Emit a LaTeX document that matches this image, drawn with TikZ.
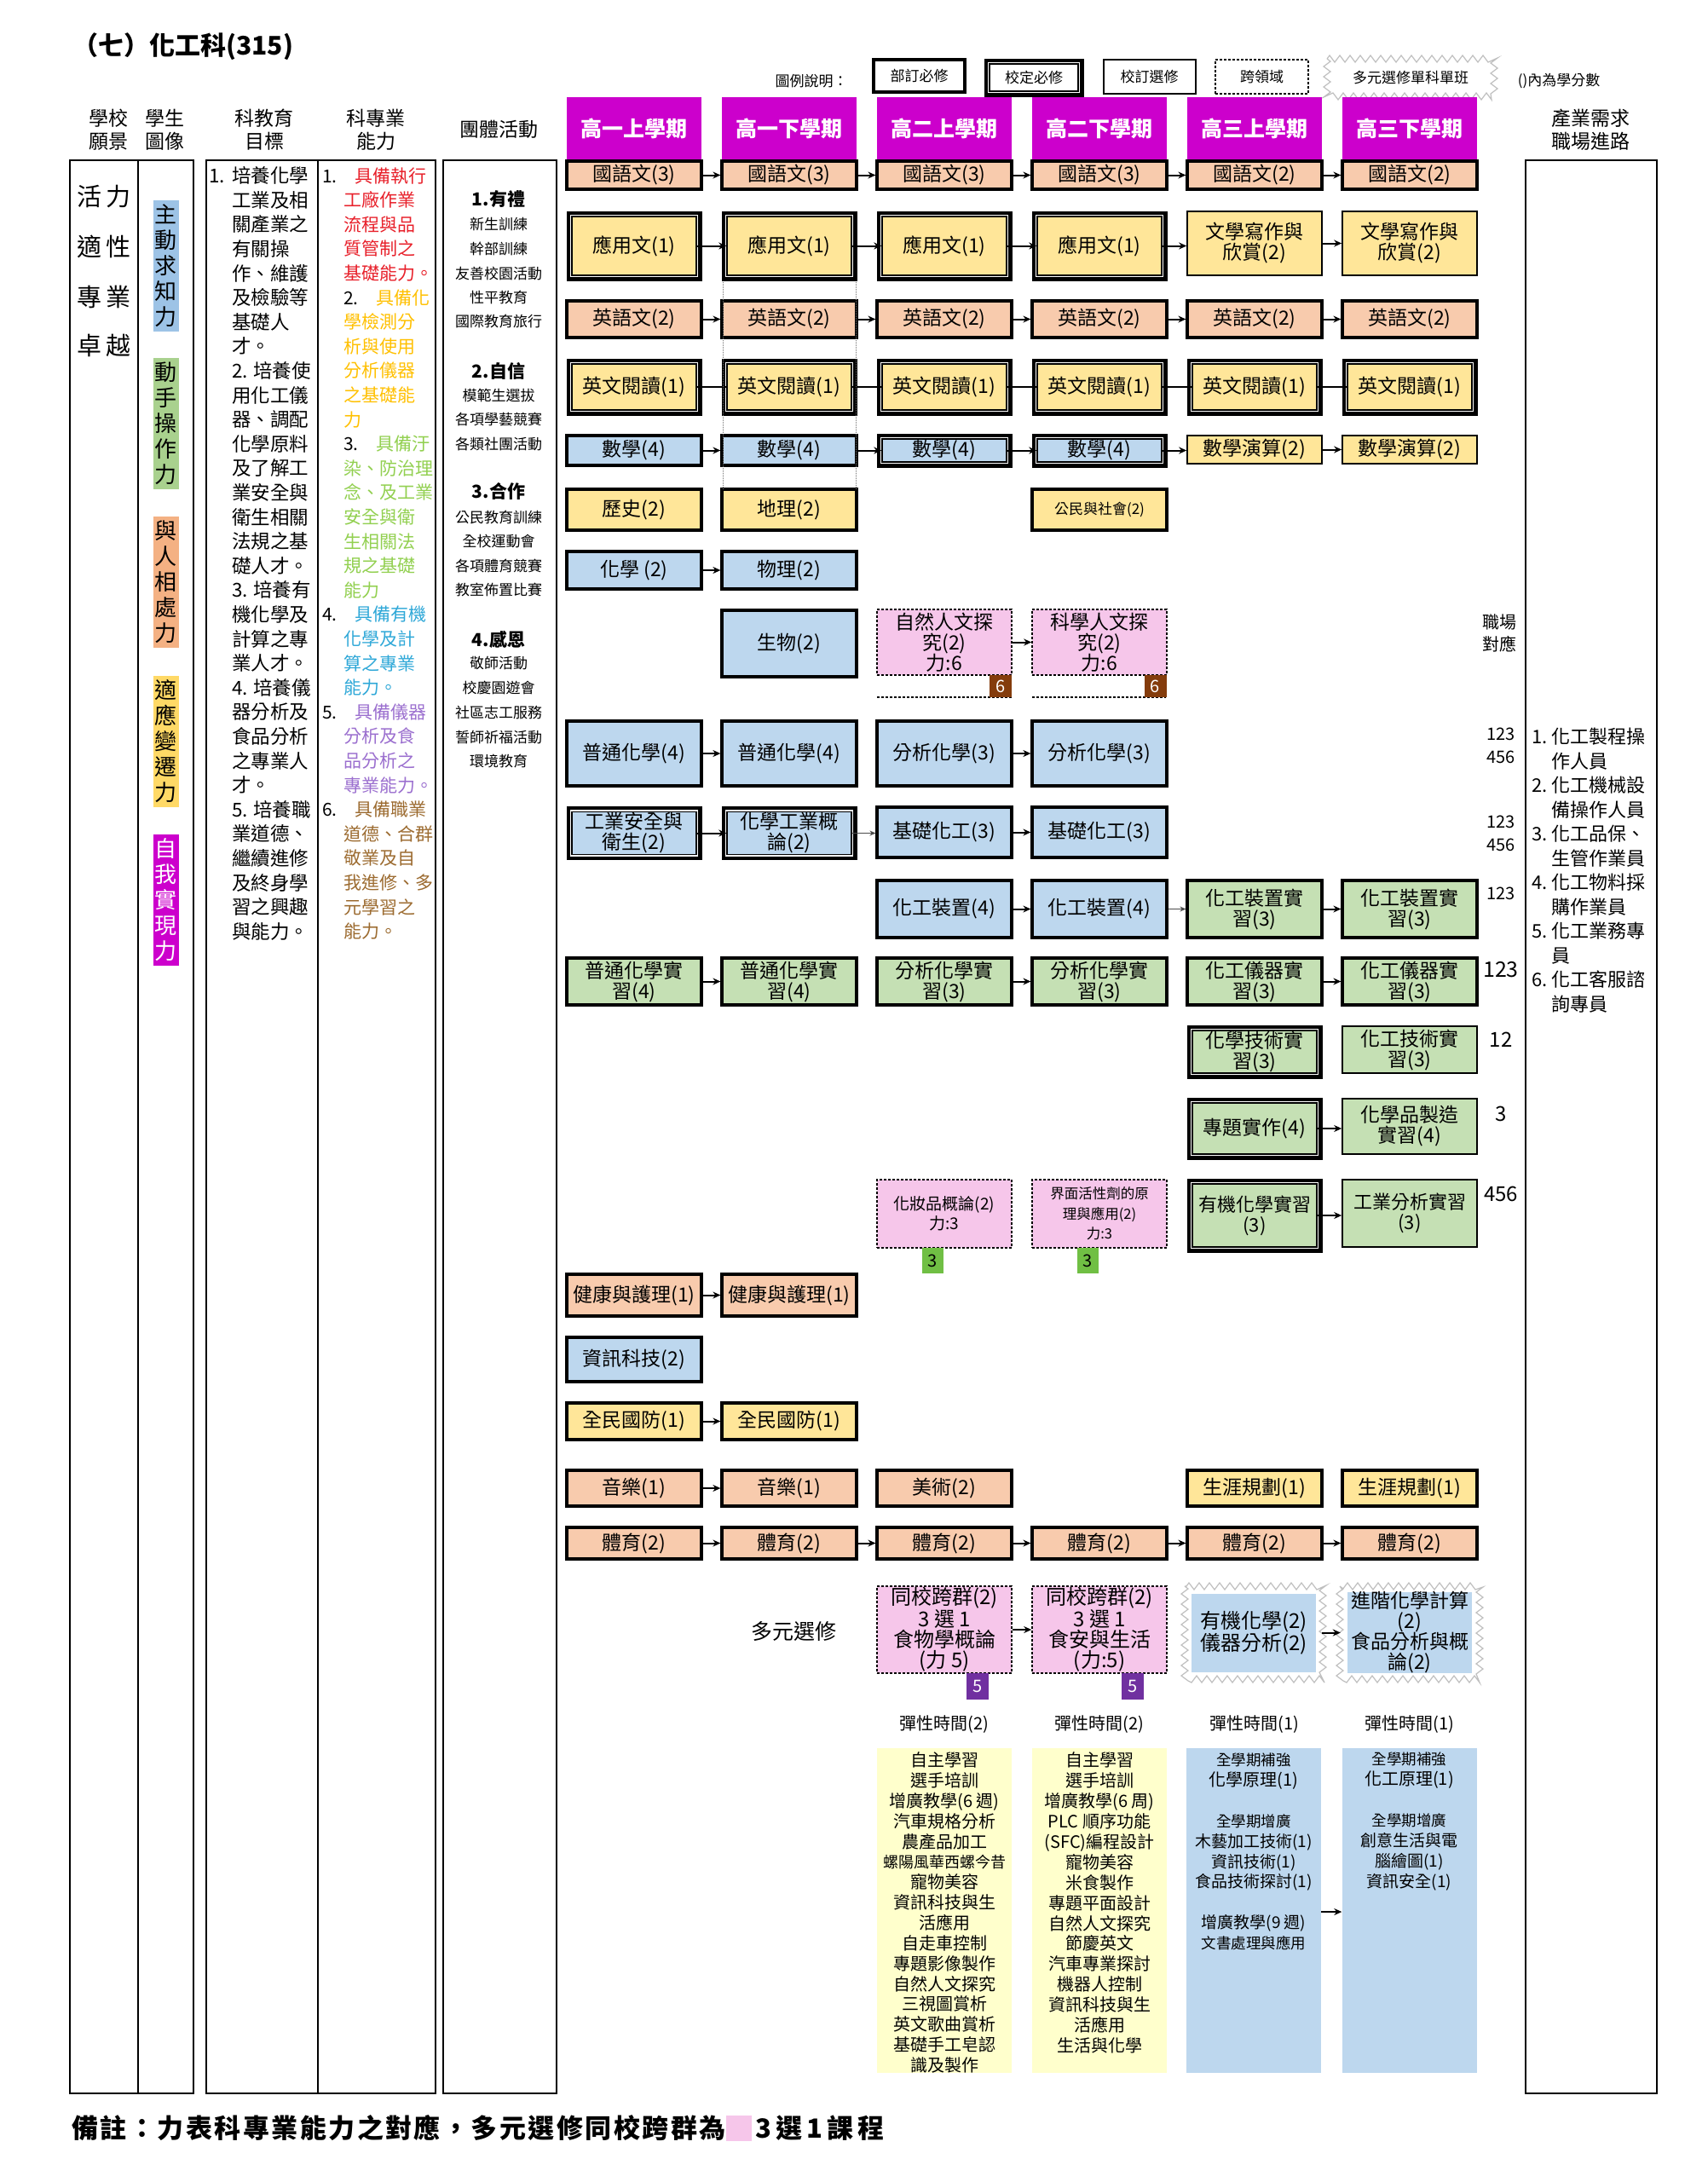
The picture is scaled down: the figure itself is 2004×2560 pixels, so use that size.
\documentclass[tikz,border=0pt]{standalone}
\usepackage{fontspec}
\setmainfont{Noto Sans CJK TC}
\usetikzlibrary{arrows.meta,decorations.pathmorphing,calc}
\definecolor{cSal}{HTML}{F8CBAD}
\definecolor{cYel}{HTML}{FFE699}
\definecolor{cBlu}{HTML}{BDD7EE}
\definecolor{cGrn}{HTML}{C5E0B4}
\definecolor{cPnk}{HTML}{F6C6EA}
\definecolor{cMag}{HTML}{CC00CC}
\definecolor{cLY}{HTML}{FFFFCC}
\definecolor{cBrn}{HTML}{843C0C}
\definecolor{cG3}{HTML}{70BF44}
\definecolor{cPur}{HTML}{7030A0}
\definecolor{pA}{HTML}{9DC3E6}
\definecolor{pB}{HTML}{A9D18E}
\definecolor{pC}{HTML}{F4B183}
\definecolor{pD}{HTML}{FFD966}
\definecolor{kA}{HTML}{E8202A}
\definecolor{kB}{HTML}{FFC000}
\definecolor{kC}{HTML}{92D050}
\definecolor{kD}{HTML}{2FA8D8}
\definecolor{kE}{HTML}{9B6FCF}
\definecolor{kF}{HTML}{9C6B30}
\newcommand\fs[2]{\fontsize{#1}{#2}\selectfont}
\def\shrink{0}
\newcommand\crs[6][]{%
  \def\shrink{0}%
  \pgfmathsetmacro\cx{744+182*(#3-1)}%
  \pgfmathsetmacro\cy{(#4+#5)/2}%
  \pgfmathsetmacro\ch{#5-#4}%
  \node[cbox,#1,minimum width={158-\shrink},minimum height={\ch-\shrink}] (#2) at (\cx,\cy) {#6};}
\begin{document}
\begin{tikzpicture}[x=1pt,y=-1pt,
  cbox/.style={draw=black,line width=3.2pt,inner sep=1pt,align=center,font=\fs{23}{24}},
  tb/.style={line width=1.6pt},
  dbl/.style={line width=1.4pt,preaction={draw=black,line width=13pt},preaction={draw=white,line width=4.5pt},/utils/exec={\def\shrink{12}}},
  dsh/.style={line width=1.5pt,densely dashed},
  sal/.style={fill=cSal},yel/.style={fill=cYel},blu/.style={fill=cBlu},grn/.style={fill=cGrn},pnk/.style={fill=cPnk},
  arrw/.style={-{Stealth[length=9pt,width=8pt]},line width=2pt},
  tarr/.style={-{Stealth[length=7pt,width=6pt]},line width=1pt,black!70},
  hdr/.style={fill=cMag,minimum width=158,minimum height=74,text=white,font=\bfseries\fs{25}{28},inner sep=0},
  zz/.style={draw=black!25,line width=1.2pt,decorate,decoration={zigzag,segment length=12pt,amplitude=4pt}},
  lg/.style={inner sep=0,font=\fs{17}{18}},
  actH/.style={inner sep=0,font=\bfseries\fs{21}{22}},
  actI/.style={inner sep=0,font=\fs{17}{18}},
  num/.style={inner sep=0,font=\fs{20}{27},align=center},
  frm/.style={line width=2pt},
  pill/.style={inner sep=2pt,minimum width=30,align=center,font=\fs{26}{30}},
  tag/.style={inner sep=0,font=\fs{20}{20}},
]
\fill[white] (0,0) rectangle (2004,2560);
\useasboundingbox (0,0) rectangle (2004,2560);

% title and legend
\node[anchor=west,font=\bfseries\fs{30}{32},inner sep=0] (title) at (85,55) {（七）化工科(315)};
\node[lg] (L0) at (952,95) {圖例說明：};
\node[lg,draw,line width=4pt,minimum width=107,minimum height=38] (L1) at (1078.5,89) {部訂必修};
\node[lg,draw=black,fill=white,dbl,minimum width=104,minimum height=32] (L2) at (1213,91) {校定必修};
\node[lg,draw,line width=2pt,minimum width=108,minimum height=40] (L3) at (1348.5,90) {校訂選修};
\node[lg,draw,dsh,minimum width=109,minimum height=40] (L4) at (1480.5,90) {跨領域};
\draw[zz] (1557,69) rectangle (1753,113);
\node[lg] (L5) at (1655,91) {多元選修單科單班};
\node[lg] (L6) at (1829,95) {()內為學分數};

% column headers
\node[font=\fs{23}{27},align=center,inner sep=0] (hA) at (127,152) {學校\\願景};
\node[font=\fs{23}{27},align=center,inner sep=0] (hB) at (193,152) {學生\\圖像};
\node[font=\fs{23}{27},align=center,inner sep=0] (hC) at (310,152) {科教育\\目標};
\node[font=\fs{23}{27},align=center,inner sep=0] (hD) at (441,152) {科專業\\能力};
\node[font=\fs{23}{27},align=center,inner sep=0] (hE) at (585,152) {團體活動};
\node[font=\fs{23}{27},align=center,inner sep=0] (hF) at (1866,152) {產業需求\\職場進路};
\node[hdr] (h1) at (744,151) {高一上學期};
\node[hdr] (h2) at (926,151) {高一下學期};
\node[hdr] (h3) at (1108,151) {高二上學期};
\node[hdr] (h4) at (1290,151) {高二下學期};
\node[hdr] (h5) at (1472,151) {高三上學期};
\node[hdr] (h6) at (1654,151) {高三下學期};

% left frames
\draw[frm] (82,188) rectangle (227,2456);
\draw[frm] (162,188) -- (162,2456);
\draw[frm] (242,188) rectangle (511,2456);
\draw[frm] (373,188) -- (373,2456);
\draw[frm] (520,188) rectangle (653,2456);
\draw[frm] (1790,188) rectangle (1944,2456);

% vision
\node[font=\fs{29}{30},inner sep=0] (v1) at (122,231) {活\hspace{5pt}力};
\node[font=\fs{29}{30},inner sep=0] (v2) at (122,289) {適\hspace{5pt}性};
\node[font=\fs{29}{30},inner sep=0] (v3) at (122,348) {專\hspace{5pt}業};
\node[font=\fs{29}{30},inner sep=0] (v4) at (122,405) {卓\hspace{5pt}越};

% student image pills
\node[pill,fill=pA,minimum height=154] (p1) at (194.5,312) {主\\動\\求\\知\\力};
\node[pill,fill=pB,minimum height=154] (p2) at (194.5,497) {動\\手\\操\\作\\力};
\node[pill,fill=pC,minimum height=154] (p3) at (194.5,683) {與\\人\\相\\處\\力};
\node[pill,fill=pD,minimum height=154] (p4) at (194.5,870) {適\\應\\變\\遷\\力};
\node[pill,fill=cMag,text=white,minimum height=154] (p5) at (194.5,1056) {自\\我\\實\\現\\力};

% objectives
\def\ii{\hspace*{27pt}}
\node[anchor=west,align=left,inner sep=0,font=\fs{22.5}{28.6}] (obj) at (245,649.5) {%
\makebox[27pt][l]{1.}培養化學\\
\ii 工業及相\\ \ii 關產業之\\ \ii 有關操\\ \ii 作、維護\\ \ii 及檢驗等\\ \ii 基礎人\\ \ii 才。\\
\ii\makebox[25pt][l]{2.}培養使\\
\ii 用化工儀\\ \ii 器、調配\\ \ii 化學原料\\ \ii 及了解工\\ \ii 業安全與\\ \ii 衛生相關\\ \ii 法規之基\\ \ii 礎人才。\\
\ii\makebox[25pt][l]{3.}培養有\\
\ii 機化學及\\ \ii 計算之專\\ \ii 業人才。\\
\ii\makebox[25pt][l]{4.}培養儀\\
\ii 器分析及\\ \ii 食品分析\\ \ii 之專業人\\ \ii 才。\\
\ii\makebox[25pt][l]{5.}培養職\\
\ii 業道德、\\ \ii 繼續進修\\ \ii 及終身學\\ \ii 習之興趣\\ \ii 與能力。};

% abilities
\def\jj{\hspace*{25pt}}
\node[anchor=west,align=left,inner sep=0,font=\fs{21}{28.6}] (abl) at (378,649.5) {%
\makebox[38pt][l]{1.}\textcolor{kA}{具備執行}\\
\jj\textcolor{kA}{工廠作業}\\ \jj\textcolor{kA}{流程與品}\\ \jj\textcolor{kA}{質管制之}\\ \jj\textcolor{kA}{基礎能力。}\\
\jj\makebox[38pt][l]{2.}\textcolor{kB}{具備化}\\
\jj\textcolor{kB}{學檢測分}\\ \jj\textcolor{kB}{析與使用}\\ \jj\textcolor{kB}{分析儀器}\\ \jj\textcolor{kB}{之基礎能}\\ \jj\textcolor{kB}{力}\\
\jj\makebox[38pt][l]{3.}\textcolor{kC}{具備汙}\\
\jj\textcolor{kC}{染、防治理}\\ \jj\textcolor{kC}{念、及工業}\\ \jj\textcolor{kC}{安全與衛}\\ \jj\textcolor{kC}{生相關法}\\ \jj\textcolor{kC}{規之基礎}\\ \jj\textcolor{kC}{能力}\\
\makebox[38pt][l]{4.}\textcolor{kD}{具備有機}\\
\jj\textcolor{kD}{化學及計}\\ \jj\textcolor{kD}{算之專業}\\ \jj\textcolor{kD}{能力。}\\
\makebox[38pt][l]{5.}\textcolor{kE}{具備儀器}\\
\jj\textcolor{kE}{分析及食}\\ \jj\textcolor{kE}{品分析之}\\ \jj\textcolor{kE}{專業能力。}\\
\makebox[38pt][l]{6.}\textcolor{kF}{具備職業}\\
\jj\textcolor{kF}{道德、合群}\\ \jj\textcolor{kF}{敬業及自}\\ \jj\textcolor{kF}{我進修、多}\\ \jj\textcolor{kF}{元學習之}\\ \jj\textcolor{kF}{能力。}};

% activities
\node[actH] (a1) at (585,234) {1.有禮};
\node[actH] (a2) at (585,436) {2.自信};
\node[actH] (a3) at (585,576) {3.合作};
\node[actH] (a4) at (585,750) {4.感恩};
\foreach \t/\y in {新生訓練/263,幹部訓練/292,友善校園活動/321,性平教育/349,國際教育旅行/377,模範生選拔/464,各項學藝競賽/492,各類社團活動/521,公民教育訓練/607,全校運動會/635,各項體育競賽/664,教室佈置比賽/692,敬師活動/778,校慶園遊會/807,社區志工服務/836,誓師祈福活動/865,環境教育/893}
  \node[actI] (act\y) at (585,\y) {\t};

% right: career list
\def\kk{\hspace*{23pt}}
\node[anchor=west,align=left,inner sep=0,font=\fs{22}{28.5}] (car) at (1797,1021) {%
\makebox[23pt][l]{1.}化工製程操\\ \kk 作人員\\
\makebox[23pt][l]{2.}化工機械設\\ \kk 備操作人員\\
\makebox[23pt][l]{3.}化工品保、\\ \kk 生管作業員\\
\makebox[23pt][l]{4.}化工物料採\\ \kk 購作業員\\
\makebox[23pt][l]{5.}化工業務專\\ \kk 員\\
\makebox[23pt][l]{6.}化工客服諮\\ \kk 詢專員};
\node[num,font=\fs{20}{26}] (n0) at (1759,743) {職場\\對應};
\node[num] (n1) at (1761,874.5) {123\\456};
\node[num] (n2) at (1761,977.5) {123\\456};
\node[num] (n3) at (1761,1048) {123};
\node[num,font=\fs{25}{27}] (n4) at (1761,1138) {123};
\node[num,font=\fs{24}{27}] (n5) at (1761,1220) {12};
\node[num,font=\fs{24}{27}] (n6) at (1761,1307) {3};
\node[num,font=\fs{24}{27}] (n7) at (1761,1401) {456};

% ===== course grid =====
% R1
\foreach \c in {1,...,4} {\crs[sal]{r1c\c}{\c}{189}{222}{國語文(3)}}
\foreach \c in {5,6} {\crs[sal]{r1c\c}{\c}{189}{222}{國語文(2)}}
% R2
\foreach \c in {1,...,4} {\crs[yel,dbl]{r2c\c}{\c}{248}{329}{應用文(1)}}
\foreach \c in {5,6} {\crs[yel,tb]{r2c\c}{\c}{248}{323}{文學寫作與\\欣賞(2)}}
% R3
\foreach \c in {1,...,6} {\crs[sal]{r3c\c}{\c}{353}{396}{英語文(2)}}
% R4
\foreach \c in {1,...,6} {\crs[yel,dbl]{r4c\c}{\c}{421}{487}{英文閱讀(1)}}
% R5
\foreach \c in {1,2} {\crs[blu]{r5c\c}{\c}{511}{546}{數學(4)}}
\foreach \c in {3,4} {\crs[blu,dbl]{r5c\c}{\c}{509}{548}{數學(4)}}
\foreach \c in {5,6} {\crs[yel,tb]{r5c\c}{\c}{511}{544}{數學演算(2)}}
% R6
\crs[yel]{r6c1}{1}{574}{622}{歷史(2)}
\crs[yel]{r6c2}{2}{574}{622}{地理(2)}
\crs[yel,font=\fs{17}{20}]{r6c4}{4}{574}{622}{公民與社會(2)}
% R7
\crs[blu]{r7c1}{1}{647}{691}{化學\ (2)}
\crs[blu]{r7c2}{2}{647}{691}{物理(2)}
% R8
\crs[blu]{r8c2}{2}{716}{794}{生物(2)}
\crs[pnk,dsh]{r8c3}{3}{715}{792}{自然人文探\\究(2)\\力:6}
\crs[pnk,dsh]{r8c4}{4}{715}{792}{科學人文探\\究(2)\\力:6}
\draw[dsh] (1029,818) -- (1187,818);
\draw[dsh] (1211,818) -- (1368,818);
\node[tag,fill=cBrn,text=white,minimum width=26,minimum height=26] (s6a) at (1174,805) {6};
\node[tag,fill=cBrn,text=white,minimum width=26,minimum height=26] (s6b) at (1355.5,805) {6};
% R9
\foreach \c in {1,2} {\crs[blu]{r9c\c}{\c}{846}{922}{普通化學(4)}}
\foreach \c in {3,4} {\crs[blu]{r9c\c}{\c}{846}{922}{分析化學(3)}}
% R10
\crs[blu,dbl]{r10c1}{1}{947}{1008}{工業安全與\\衛生(2)}
\crs[blu,dbl]{r10c2}{2}{947}{1008}{化學工業概\\論(2)}
\foreach \c in {3,4} {\crs[blu]{r10c\c}{\c}{947}{1006}{基礎化工(3)}}
% R11
\foreach \c in {3,4} {\crs[blu]{r11c\c}{\c}{1033}{1100}{化工裝置(4)}}
\foreach \c in {5,6} {\crs[grn]{r11c\c}{\c}{1033}{1100}{化工裝置實\\習(3)}}
% R12
\foreach \c in {1,2} {\crs[grn]{r12c\c}{\c}{1124}{1179}{普通化學實\\習(4)}}
\foreach \c in {3,4} {\crs[grn]{r12c\c}{\c}{1124}{1179}{分析化學實\\習(3)}}
\foreach \c in {5,6} {\crs[grn]{r12c\c}{\c}{1124}{1179}{化工儀器實\\習(3)}}
% R13
\crs[grn,dbl]{r13c5}{5}{1203}{1265}{化學技術實\\習(3)}
\crs[grn,tb]{r13c6}{6}{1204}{1259}{化工技術實\\習(3)}
% R14
\crs[grn,dbl]{r14c5}{5}{1288}{1360}{專題實作(4)}
\crs[grn,tb]{r14c6}{6}{1289}{1354}{化學品製造\\實習(4)}
% R15
\crs[pnk,dsh,font=\fs{19}{23}]{r15c3}{3}{1384}{1464}{化妝品概論(2)\\力:3}
\crs[pnk,dsh,font=\fs{16.5}{23.5}]{r15c4}{4}{1384}{1464}{界面活性劑的原\\理與應用(2)\\力:3}
\crs[grn,dbl,font=\fs{22}{24}]{r15c5}{5}{1383}{1469}{有機化學實習\\(3)}
\crs[grn,tb,font=\fs{22}{24}]{r15c6}{6}{1384}{1463}{工業分析實習\\(3)}
\node[tag,fill=cG3,minimum width=25,minimum height=30] (s3a) at (1094.5,1479) {3};
\node[tag,fill=cG3,minimum width=25,minimum height=30] (s3b) at (1276.5,1479) {3};
% R16-R20
\foreach \c in {1,2} {\crs[sal]{r16c\c}{\c}{1495}{1544}{健康與護理(1)}}
\crs[blu]{r17c1}{1}{1569}{1621}{資訊科技(2)}
\foreach \c in {1,2} {\crs[yel]{r18c\c}{\c}{1646}{1689}{全民國防(1)}}
\foreach \c in {1,2} {\crs[sal]{r19c\c}{\c}{1725}{1767}{音樂(1)}}
\crs[sal]{r19c3}{3}{1725}{1767}{美術(2)}
\foreach \c in {5,6} {\crs[yel]{r19c\c}{\c}{1725}{1767}{生涯規劃(1)}}
\foreach \c in {1,...,6} {\crs[sal]{r20c\c}{\c}{1792}{1829}{體育(2)}}

% R21 electives
\node[font=\fs{25}{26},inner sep=0] (dy) at (931,1914) {多元選修};
\crs[pnk,dsh,font=\fs{24}{24}]{r21c3}{3}{1861}{1963}{同校跨群(2)\\3 選 1\\食物學概論\\(力 5)}
\crs[pnk,dsh,font=\fs{24}{24}]{r21c4}{4}{1861}{1963}{同校跨群(2)\\3 選 1\\食安與生活\\(力:5)}
\node[tag,fill=cPur,text=white,minimum width=26,minimum height=31] (s5a) at (1147,1978.5) {5};
\node[tag,fill=cPur,text=white,minimum width=26,minimum height=31] (s5b) at (1329,1978.5) {5};
\draw[zz] (1390,1861) rectangle (1552,1970);
\draw[zz] (1572,1861) rectangle (1736,1970);
\node[fill=cBlu,minimum width=146,minimum height=92,inner sep=0,align=center,font=\fs{24}{24}] (e5) at (1471,1915.5) {有機化學(2)\\儀器分析(2)};
\node[fill=cBlu,minimum width=146,minimum height=92,inner sep=0,align=center,font=\fs{23}{24}] (e6) at (1654,1915.5) {進階化學計算\\(2)\\食品分析與概\\論(2)};

% flexible time
\node[inner sep=0,font=\fs{20}{22}] (f3) at (1108,2023) {彈性時間(2)};
\node[inner sep=0,font=\fs{20}{22}] (f4) at (1290,2023) {彈性時間(2)};
\node[inner sep=0,font=\fs{20}{22}] (f5) at (1472,2023) {彈性時間(1)};
\node[inner sep=0,font=\fs{20}{22}] (f6) at (1654,2023) {彈性時間(1)};
\node[fill=cLY,minimum width=158,minimum height=381,inner sep=0] (b3) at (1108,2241.5) {};
\node[fill=cLY,minimum width=158,minimum height=381,inner sep=0] (b4) at (1290,2241.5) {};
\node[fill=cBlu,minimum width=158,minimum height=381,inner sep=0] (b5) at (1471,2241.5) {};
\node[fill=cBlu,minimum width=158,minimum height=381,inner sep=0] (b6) at (1653.5,2241.5) {};
\node[inner sep=0,align=center,font=\fs{20}{23.87}] (t3) at (1108,2244) {自主學習\\選手培訓\\增廣教學(6 週)\\汽車規格分析\\農產品加工\\{\fs{18}{23.87}螺陽風華西螺今昔}\\寵物美容\\資訊科技與生\\活應用\\自走車控制\\專題影像製作\\自然人文探究\\三視圖賞析\\英文歌曲賞析\\基礎手工皂認\\識及製作};
\node[inner sep=0,align=center,font=\fs{20}{23.9}] (t4) at (1290,2232.5) {自主學習\\選手培訓\\增廣教學(6 周)\\PLC 順序功能\\(SFC)編程設計\\寵物美容\\米食製作\\專題平面設計\\自然人文探究\\節慶英文\\汽車專業探討\\機器人控制\\資訊科技與生\\活應用\\生活與化學};
\node[inner sep=0,align=center,font=\fs{19}{23.9}] (t5) at (1471,2172.5) {{\fs{17.5}{23.9}全學期補強}\\{\fs{20}{23.9}化學原理(1)}\\\mbox{}\\{\fs{17.5}{23.9}全學期增廣}\\木藝加工技術(1)\\資訊技術(1)\\食品技術探討(1)\\\mbox{}\\增廣教學(9 週)\\{\fs{17.5}{23.9}文書處理與應用}};
\node[inner sep=0,align=center,font=\fs{19}{23.9}] (t6) at (1653.5,2137) {{\fs{17.5}{23.9}全學期補強}\\{\fs{20}{23.9}化工原理(1)}\\\mbox{}\\{\fs{17.5}{23.9}全學期增廣}\\創意生活與電\\腦繪圖(1)\\資訊安全(1)};

% ===== connectors =====
\foreach \rr in {1,2,3,5,20}
  \foreach \aa/\bb in {1/2,2/3,3/4,4/5,5/6}
    \draw[arrw] (r\rr c\aa.east) -- (r\rr c\aa.east -| r\rr c\bb.west);
\foreach \aa/\bb in {1/2,2/3,3/4,4/5,5/6}
  \draw[line width=2pt] (r4c\aa.east) -- (r4c\aa.east -| r4c\bb.west);
\draw[arrw] (r7c1.east) -- (r7c1.east -| r7c2.west);
\draw[arrw] (r8c3.east) -- (r8c3.east -| r8c4.west);
\draw[arrw] (r9c1.east) -- (r9c1.east -| r9c2.west);
\draw[arrw] (r9c3.east) -- (r9c3.east -| r9c4.west);
\draw[arrw] (r10c1.east) -- (r10c1.east -| r10c2.west);
\draw[tarr] (r10c2.east) -- (r10c2.east -| r10c3.west);
\draw[arrw] (r10c3.east) -- (r10c3.east -| r10c4.west);
\draw[arrw] (r11c3.east) -- (r11c3.east -| r11c4.west);
\draw[tarr] (r11c4.east) -- (r11c4.east -| r11c5.west);
\draw[arrw] (r11c5.east) -- (r11c5.east -| r11c6.west);
\draw[arrw] (r12c1.east) -- (r12c1.east -| r12c2.west);
\draw[arrw] (r12c3.east) -- (r12c3.east -| r12c4.west);
\draw[arrw] (r12c5.east) -- (r12c5.east -| r12c6.west);
\draw[arrw] (r14c5.east) -- (r14c5.east -| r14c6.west);
\draw[arrw] (r15c5.east) -- (r15c5.east -| r15c6.west);
\draw[arrw] (r16c1.east) -- (r16c1.east -| r16c2.west);
\draw[arrw] (r18c1.east) -- (r18c1.east -| r18c2.west);
\draw[arrw] (r19c1.east) -- (r19c1.east -| r19c2.west);
\draw[arrw] (r21c3.east) -- (r21c3.east -| r21c4.west);
\draw[arrw] ($(e5.east)+(7,0)$) -- ($(e6.west)+(-8,0)$);
\coordinate (ya) at (0,2243);
\draw[arrw] (b5.east |- ya) -- (b6.west |- ya);
\draw[densely dotted,line width=1pt,black!55] (848,331) -- (848,574);
\draw[densely dotted,line width=1pt,black!55] (1004,331) -- (1004,574);

% note
\node[anchor=west,font=\bfseries\fs{31}{32}\addfontfeatures{LetterSpace=8},inner sep=0] (note) at (84,2497) {備註：力表科專業能力之對應，多元選修同校跨群為};
\node[fill=cPnk,minimum width=30,minimum height=30,inner sep=0,anchor=west] (pk) at (note.east) {};
\node[anchor=west,font=\bfseries\fs{31}{32}\addfontfeatures{LetterSpace=16},inner sep=4pt] (note2) at (pk.east) {3選1課程};
\end{tikzpicture}
\end{document}
